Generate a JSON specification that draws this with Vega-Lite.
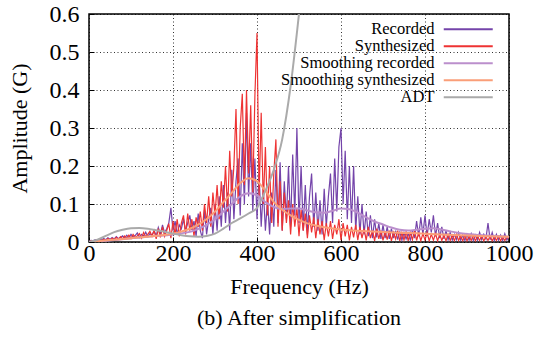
{
  "$schema": "https://vega.github.io/schema/vega-lite/v6.json",
  "autosize": {"type": "none"},
  "padding": {"left": 89, "top": 14, "right": 27, "bottom": 96},
  "width": 420,
  "height": 228,
  "background": "white",
  "title": {"text": "(b) After simplification", "orient": "bottom", "font": "Liberation Serif", "fontSize": 22, "fontWeight": "normal", "color": "black", "offset": 11},
  "config": {
    "view": {"stroke": "black", "strokeWidth": 1.5},
    "font": "Liberation Serif",
    "axis": {"domain": false, "labelFont": "Liberation Serif", "labelFontSize": 24, "labelColor": "black", "titleFont": "Liberation Serif", "titleFontSize": 22, "titleFontWeight": "normal", "titleColor": "black", "gridColor": "black", "gridDash": [1, 2.5], "gridWidth": 1, "gridOpacity": 0.8, "tickColor": "black", "tickSize": -5, "tickWidth": 1},
    "legend": {"orient": "none", "legendX": 371, "legendY": 7, "labelAlign": "right", "labelOffset": -42, "labelFont": "Liberation Serif", "labelFontSize": 16.5, "labelColor": "black", "symbolType": "M-4,0H4", "symbolSize": 150, "symbolStrokeWidth": 2, "symbolFillColor": "transparent", "rowPadding": 0, "padding": 0, "labelLimit": 0}
  },
  "datasets": {
    "rec": [
      {"f":0,"a":0.002},{"f":5,"a":0.004},{"f":10,"a":0.003},{"f":15,"a":0.006},{"f":20,"a":0.004},{"f":25,"a":0.008},{"f":30,"a":0.005},{"f":35,"a":0.009},{"f":40,"a":0.006},{"f":45,"a":0.011},
      {"f":50,"a":0.007},{"f":55,"a":0.012},{"f":60,"a":0.008},{"f":65,"a":0.014},{"f":70,"a":0.009},{"f":75,"a":0.012},{"f":80,"a":0.016},{"f":85,"a":0.01},{"f":90,"a":0.018},{"f":95,"a":0.011},
      {"f":100,"a":0.02},{"f":105,"a":0.013},{"f":110,"a":0.017},{"f":115,"a":0.024},{"f":120,"a":0.012},{"f":125,"a":0.02},{"f":130,"a":0.015},{"f":135,"a":0.026},{"f":140,"a":0.014},{"f":145,"a":0.022},
      {"f":150,"a":0.018},{"f":155,"a":0.03},{"f":160,"a":0.016},{"f":165,"a":0.038},{"f":170,"a":0.02},{"f":175,"a":0.045},{"f":180,"a":0.024},{"f":185,"a":0.035},{"f":190,"a":0.05},{"f":195,"a":0.09},
      {"f":200,"a":0.03},{"f":205,"a":0.055},{"f":210,"a":0.02},{"f":215,"a":0.045},{"f":220,"a":0.035},{"f":225,"a":0.06},{"f":230,"a":0.028},{"f":235,"a":0.05},{"f":240,"a":0.07},{"f":245,"a":0.032},
      {"f":250,"a":0.055},{"f":255,"a":0.015},{"f":260,"a":0.075},{"f":265,"a":0.03},{"f":270,"a":0.01},{"f":275,"a":0.085},{"f":280,"a":0.02},{"f":285,"a":0.06},{"f":290,"a":0.09},{"f":295,"a":0.02},
      {"f":300,"a":0.1},{"f":305,"a":0.03},{"f":310,"a":0.12},{"f":315,"a":0.04},{"f":320,"a":0.15},{"f":325,"a":0.05},{"f":330,"a":0.13},{"f":335,"a":0.03},{"f":340,"a":0.19},{"f":345,"a":0.06},
      {"f":350,"a":0.16},{"f":355,"a":0.22},{"f":360,"a":0.07},{"f":365,"a":0.26},{"f":370,"a":0.1},{"f":375,"a":0.34},{"f":380,"a":0.12},{"f":385,"a":0.26},{"f":390,"a":0.08},{"f":395,"a":0.22},
      {"f":400,"a":0.06},{"f":405,"a":0.18},{"f":410,"a":0.04},{"f":415,"a":0.14},{"f":420,"a":0.03},{"f":425,"a":0.11},{"f":430,"a":0.02},{"f":435,"a":0.13},{"f":440,"a":0.04},{"f":445,"a":0.19},
      {"f":450,"a":0.05},{"f":455,"a":0.21},{"f":460,"a":0.03},{"f":465,"a":0.16},{"f":470,"a":0.06},{"f":475,"a":0.2},{"f":480,"a":0.04},{"f":485,"a":0.23},{"f":490,"a":0.07},{"f":495,"a":0.3},
      {"f":500,"a":0.05},{"f":505,"a":0.2},{"f":510,"a":0.03},{"f":515,"a":0.15},{"f":520,"a":0.02},{"f":525,"a":0.12},{"f":530,"a":0.18},{"f":535,"a":0.04},{"f":540,"a":0.13},{"f":545,"a":0.03},
      {"f":550,"a":0.11},{"f":555,"a":0.02},{"f":560,"a":0.14},{"f":565,"a":0.04},{"f":570,"a":0.12},{"f":575,"a":0.18},{"f":580,"a":0.05},{"f":585,"a":0.22},{"f":590,"a":0.08},{"f":595,"a":0.25},
      {"f":600,"a":0.3},{"f":605,"a":0.1},{"f":610,"a":0.24},{"f":615,"a":0.06},{"f":620,"a":0.2},{"f":625,"a":0.05},{"f":630,"a":0.2},{"f":635,"a":0.03},{"f":640,"a":0.12},{"f":645,"a":0.02},
      {"f":650,"a":0.1},{"f":655,"a":0.02},{"f":660,"a":0.08},{"f":665,"a":0.015},{"f":670,"a":0.07},{"f":675,"a":0.01},{"f":680,"a":0.06},{"f":685,"a":0.012},{"f":690,"a":0.05},{"f":695,"a":0.008},
      {"f":700,"a":0.045},{"f":705,"a":0.01},{"f":710,"a":0.04},{"f":715,"a":0.008},{"f":720,"a":0.035},{"f":725,"a":0.01},{"f":730,"a":0.03},{"f":735,"a":0.006},{"f":740,"a":0.028},{"f":745,"a":0.005},
      {"f":750,"a":0.025},{"f":755,"a":0.008},{"f":760,"a":0.022},{"f":765,"a":0.005},{"f":770,"a":0.03},{"f":775,"a":0.01},{"f":780,"a":0.055},{"f":785,"a":0.015},{"f":790,"a":0.065},{"f":795,"a":0.02},
      {"f":800,"a":0.07},{"f":805,"a":0.015},{"f":810,"a":0.06},{"f":815,"a":0.025},{"f":820,"a":0.07},{"f":825,"a":0.015},{"f":830,"a":0.05},{"f":835,"a":0.01},{"f":840,"a":0.04},{"f":845,"a":0.008},
      {"f":850,"a":0.03},{"f":855,"a":0.006},{"f":860,"a":0.025},{"f":865,"a":0.005},{"f":870,"a":0.02},{"f":875,"a":0.006},{"f":880,"a":0.025},{"f":885,"a":0.005},{"f":890,"a":0.018},{"f":895,"a":0.004},
      {"f":900,"a":0.02},{"f":905,"a":0.005},{"f":910,"a":0.022},{"f":915,"a":0.004},{"f":920,"a":0.018},{"f":925,"a":0.005},{"f":930,"a":0.025},{"f":935,"a":0.006},{"f":940,"a":0.02},{"f":945,"a":0.008},
      {"f":950,"a":0.05},{"f":955,"a":0.006},{"f":960,"a":0.025},{"f":965,"a":0.004},{"f":970,"a":0.02},{"f":975,"a":0.005},{"f":980,"a":0.018},{"f":985,"a":0.004},{"f":990,"a":0.022},{"f":995,"a":0.005},
      {"f":1000,"a":0.015}
    ],
    "syn": [
      {"f":0,"a":0.001},{"f":5,"a":0.003},{"f":10,"a":0.002},{"f":15,"a":0.004},{"f":20,"a":0.003},{"f":25,"a":0.006},{"f":30,"a":0.003},{"f":35,"a":0.007},{"f":40,"a":0.004},{"f":45,"a":0.009},
      {"f":50,"a":0.005},{"f":55,"a":0.01},{"f":60,"a":0.006},{"f":65,"a":0.012},{"f":70,"a":0.007},{"f":75,"a":0.014},{"f":80,"a":0.008},{"f":85,"a":0.016},{"f":90,"a":0.01},{"f":95,"a":0.018},
      {"f":100,"a":0.009},{"f":105,"a":0.02},{"f":110,"a":0.012},{"f":115,"a":0.016},{"f":120,"a":0.022},{"f":125,"a":0.01},{"f":130,"a":0.025},{"f":135,"a":0.014},{"f":140,"a":0.02},{"f":145,"a":0.028},
      {"f":150,"a":0.015},{"f":155,"a":0.03},{"f":160,"a":0.008},{"f":165,"a":0.035},{"f":170,"a":0.012},{"f":175,"a":0.04},{"f":180,"a":0.015},{"f":185,"a":0.03},{"f":190,"a":0.048},{"f":195,"a":0.01},
      {"f":200,"a":0.055},{"f":205,"a":0.02},{"f":210,"a":0.06},{"f":215,"a":0.015},{"f":220,"a":0.05},{"f":225,"a":0.07},{"f":230,"a":0.02},{"f":235,"a":0.075},{"f":240,"a":0.03},{"f":245,"a":0.06},
      {"f":250,"a":0.015},{"f":255,"a":0.065},{"f":260,"a":0.04},{"f":265,"a":0.08},{"f":270,"a":0.03},{"f":275,"a":0.1},{"f":280,"a":0.05},{"f":285,"a":0.12},{"f":290,"a":0.04},{"f":295,"a":0.13},
      {"f":300,"a":0.07},{"f":305,"a":0.15},{"f":310,"a":0.06},{"f":315,"a":0.16},{"f":320,"a":0.09},{"f":325,"a":0.2},{"f":330,"a":0.08},{"f":335,"a":0.24},{"f":340,"a":0.12},{"f":345,"a":0.2},
      {"f":350,"a":0.35},{"f":355,"a":0.1},{"f":360,"a":0.3},{"f":365,"a":0.39},{"f":370,"a":0.15},{"f":375,"a":0.4},{"f":380,"a":0.18},{"f":385,"a":0.36},{"f":390,"a":0.13},{"f":395,"a":0.385},
      {"f":400,"a":0.55},{"f":405,"a":0.12},{"f":410,"a":0.34},{"f":415,"a":0.1},{"f":420,"a":0.25},{"f":425,"a":0.07},{"f":430,"a":0.2},{"f":435,"a":0.05},{"f":440,"a":0.18},{"f":445,"a":0.27},
      {"f":450,"a":0.04},{"f":455,"a":0.16},{"f":460,"a":0.03},{"f":465,"a":0.13},{"f":470,"a":0.05},{"f":475,"a":0.11},{"f":480,"a":0.02},{"f":485,"a":0.1},{"f":490,"a":0.04},{"f":495,"a":0.09},
      {"f":500,"a":0.015},{"f":505,"a":0.085},{"f":510,"a":0.03},{"f":515,"a":0.075},{"f":520,"a":0.01},{"f":525,"a":0.07},{"f":530,"a":0.025},{"f":535,"a":0.065},{"f":540,"a":0.01},{"f":545,"a":0.06},
      {"f":550,"a":0.02},{"f":555,"a":0.055},{"f":560,"a":0.005},{"f":565,"a":0.05},{"f":570,"a":0.015},{"f":575,"a":0.055},{"f":580,"a":0.008},{"f":585,"a":0.045},{"f":590,"a":0.02},{"f":595,"a":0.06},
      {"f":600,"a":0.005},{"f":605,"a":0.05},{"f":610,"a":0.015},{"f":615,"a":0.045},{"f":620,"a":0.004},{"f":625,"a":0.04},{"f":630,"a":0.012},{"f":635,"a":0.045},{"f":640,"a":0.005},{"f":645,"a":0.04},
      {"f":650,"a":0.01},{"f":655,"a":0.035},{"f":660,"a":0.004},{"f":665,"a":0.04},{"f":670,"a":0.01},{"f":675,"a":0.03},{"f":680,"a":0.003},{"f":685,"a":0.035},{"f":690,"a":0.008},{"f":695,"a":0.03},
      {"f":700,"a":0.004},{"f":705,"a":0.028},{"f":710,"a":0.006},{"f":715,"a":0.03},{"f":720,"a":0.003},{"f":725,"a":0.025},{"f":730,"a":0.008},{"f":735,"a":0.03},{"f":740,"a":0.003},{"f":745,"a":0.025},
      {"f":750,"a":0.005},{"f":755,"a":0.028},{"f":760,"a":0.003},{"f":765,"a":0.025},{"f":770,"a":0.006},{"f":775,"a":0.03},{"f":780,"a":0.004},{"f":785,"a":0.025},{"f":790,"a":0.003},{"f":795,"a":0.022},
      {"f":800,"a":0.005},{"f":805,"a":0.025},{"f":810,"a":0.003},{"f":815,"a":0.02},{"f":820,"a":0.005},{"f":825,"a":0.022},{"f":830,"a":0.003},{"f":835,"a":0.02},{"f":840,"a":0.004},{"f":845,"a":0.018},
      {"f":850,"a":0.003},{"f":855,"a":0.02},{"f":860,"a":0.004},{"f":865,"a":0.018},{"f":870,"a":0.003},{"f":875,"a":0.02},{"f":880,"a":0.004},{"f":885,"a":0.016},{"f":890,"a":0.003},{"f":895,"a":0.018},
      {"f":900,"a":0.003},{"f":905,"a":0.016},{"f":910,"a":0.004},{"f":915,"a":0.018},{"f":920,"a":0.003},{"f":925,"a":0.015},{"f":930,"a":0.004},{"f":935,"a":0.016},{"f":940,"a":0.003},{"f":945,"a":0.014},
      {"f":950,"a":0.004},{"f":955,"a":0.016},{"f":960,"a":0.003},{"f":965,"a":0.014},{"f":970,"a":0.004},{"f":975,"a":0.015},{"f":980,"a":0.003},{"f":985,"a":0.013},{"f":990,"a":0.004},{"f":995,"a":0.014},
      {"f":1000,"a":0.01}
    ],
    "srec": [
      {"f":0,"a":0},{"f":50,"a":0.004},{"f":100,"a":0.01},{"f":150,"a":0.015},{"f":200,"a":0.02},{"f":250,"a":0.03},{"f":280,"a":0.045},{"f":300,"a":0.06},{"f":320,"a":0.08},{"f":340,"a":0.1},
      {"f":360,"a":0.12},{"f":380,"a":0.128},{"f":400,"a":0.123},{"f":420,"a":0.105},{"f":440,"a":0.092},{"f":460,"a":0.087},{"f":480,"a":0.088},{"f":500,"a":0.088},{"f":520,"a":0.083},{"f":540,"a":0.078},
      {"f":560,"a":0.077},{"f":580,"a":0.082},{"f":600,"a":0.088},{"f":620,"a":0.086},{"f":640,"a":0.077},{"f":660,"a":0.065},{"f":680,"a":0.054},{"f":700,"a":0.046},{"f":720,"a":0.038},{"f":740,"a":0.032},
      {"f":760,"a":0.03},{"f":780,"a":0.032},{"f":800,"a":0.035},{"f":820,"a":0.036},{"f":840,"a":0.033},{"f":860,"a":0.028},{"f":880,"a":0.024},{"f":900,"a":0.021},{"f":950,"a":0.017},{"f":1000,"a":0.014}
    ],
    "ssyn": [
      {"f":0,"a":0},{"f":50,"a":0.005},{"f":100,"a":0.01},{"f":150,"a":0.015},{"f":200,"a":0.022},{"f":250,"a":0.04},{"f":280,"a":0.06},{"f":300,"a":0.08},{"f":320,"a":0.105},{"f":340,"a":0.13},
      {"f":360,"a":0.155},{"f":380,"a":0.168},{"f":400,"a":0.16},{"f":420,"a":0.135},{"f":440,"a":0.105},{"f":460,"a":0.085},{"f":480,"a":0.07},{"f":500,"a":0.058},{"f":520,"a":0.049},{"f":550,"a":0.041},
      {"f":600,"a":0.033},{"f":650,"a":0.029},{"f":700,"a":0.026},{"f":750,"a":0.024},{"f":800,"a":0.022},{"f":850,"a":0.019},{"f":900,"a":0.017},{"f":950,"a":0.015},{"f":1000,"a":0.014}
    ],
    "adt": [
      {"f":0,"a":0},{"f":20,"a":0.006},{"f":40,"a":0.016},{"f":60,"a":0.026},{"f":80,"a":0.032},{"f":100,"a":0.036},{"f":120,"a":0.037},{"f":140,"a":0.035},{"f":160,"a":0.031},{"f":180,"a":0.027},
      {"f":200,"a":0.022},{"f":220,"a":0.018},{"f":240,"a":0.015},{"f":260,"a":0.014},{"f":280,"a":0.016},{"f":300,"a":0.022},{"f":320,"a":0.035},{"f":340,"a":0.05},{"f":360,"a":0.062},{"f":380,"a":0.075},
      {"f":400,"a":0.09},{"f":420,"a":0.135},{"f":440,"a":0.19},{"f":460,"a":0.27},{"f":480,"a":0.41},{"f":500,"a":0.6},{"f":510,"a":0.7}
    ]
  },
  "encoding": {
    "x": {"field": "f", "type": "quantitative", "scale": {"domain": [0, 1000], "nice": false}, "axis": {"values": [0, 200, 400, 600, 800, 1000], "format": "d", "title": "Frequency (Hz)", "labelPadding": 4, "titlePadding": 11, "labelFlush": false}},
    "y": {"field": "a", "type": "quantitative", "scale": {"domain": [0, 0.6], "nice": false}, "axis": {"values": [0, 0.1, 0.2, 0.3, 0.4, 0.5, 0.6], "labelExpr": "datum.value == 0 ? '0' : format(datum.value, '.1f')", "title": "Amplitude (G)", "labelPadding": 15, "titlePadding": 18, "labelFlush": false}}
  },
  "layer": [
    {"mark": {"type": "rect", "color": "white"}, "encoding": {"x": {"datum": 300}, "x2": {"datum": 996}, "y": {"datum": 0.355}, "y2": {"datum": 0.597}}},
    {"data": {"name": "rec"}, "mark": {"type": "line", "strokeWidth": 1.2, "clip": true}, "encoding": {"color": {"datum": "Recorded", "type": "nominal", "scale": {"domain": ["Recorded", "Synthesized", "Smoothing recorded", "Smoothing synthesized", "ADT"], "range": ["#7444aa", "#ee3333", "#bb8fcc", "#fa9e78", "#aaaaaa"]}, "legend": {"title": null}}}},
    {"data": {"name": "syn"}, "mark": {"type": "line", "strokeWidth": 1.2, "clip": true}, "encoding": {"color": {"datum": "Synthesized", "type": "nominal"}}},
    {"data": {"name": "srec"}, "mark": {"type": "line", "strokeWidth": 2, "interpolate": "monotone", "clip": true}, "encoding": {"color": {"datum": "Smoothing recorded", "type": "nominal"}}},
    {"data": {"name": "ssyn"}, "mark": {"type": "line", "strokeWidth": 2, "interpolate": "monotone", "clip": true}, "encoding": {"color": {"datum": "Smoothing synthesized", "type": "nominal"}}},
    {"data": {"name": "adt"}, "mark": {"type": "line", "strokeWidth": 2, "interpolate": "monotone", "clip": true}, "encoding": {"color": {"datum": "ADT", "type": "nominal"}}}
  ]
}
